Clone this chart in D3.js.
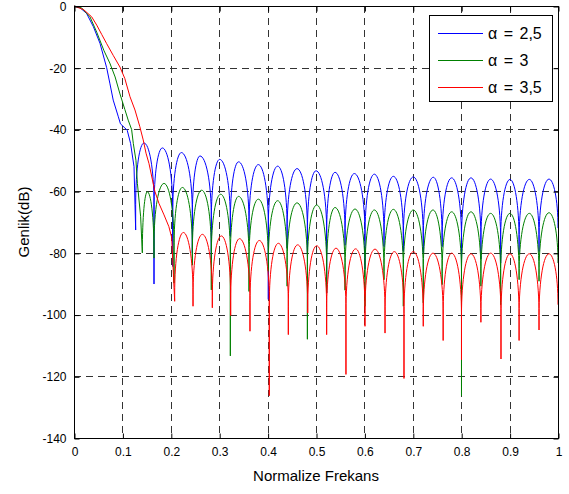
<!DOCTYPE html>
<html><head><meta charset="utf-8">
<script src="https://cdn.jsdelivr.net/npm/d3@7"></script>
<style>
body{margin:0;background:#fff}
text{font-family:Arial,"Liberation Sans",sans-serif;fill:#000}
</style>
</head><body>
<svg id="chart" width="569" height="494"></svg>
<script>
// ---- data ----
const xTicks = [0, 0.1, 0.2, 0.3, 0.4, 0.5, 0.6, 0.7, 0.8, 0.9, 1];
const xTickLabels = ["0", "0.1", "0.2", "0.3", "0.4", "0.5", "0.6", "0.7", "0.8", "0.9", "1"];
const yTicks = [0, -20, -40, -60, -80, -100, -120, -140];
const yTickLabels = ["0", "-20", "-40", "-60", "-80", "-100", "-120", "-140"];
const seriesNames = ["α = 2,5", "α = 3", "α = 3,5"];
const xTitle = "Normalize Frekans";
const yTitle = "Genlik(dB)";

// main lobe, [frequency, dB]
const blueMain = [[0,0],[0.012,-0.5],[0.026,-2.4],[0.040,-6.7],[0.0537,-12.1],[0.0675,-20],[0.074,-25],[0.081,-30.5],[0.0916,-35.9],[0.096,-38.2],[0.105,-39.5],[0.110,-40.3],[0.117,-44.6],[0.124,-52.1],[0.1274,-72.6]];
const greenMain = [[0,0],[0.015,-0.5],[0.033,-3.5],[0.047,-8.5],[0.062,-14.5],[0.074,-18.5],[0.085,-23],[0.095,-28.5],[0.105,-33.5],[0.112,-37],[0.119,-40],[0.1225,-44.5],[0.128,-50],[0.131,-57.5],[0.1377,-68.3],[0.1412,-80]];
const redMain = [[0,0],[0.02,-1.2],[0.0365,-3.5],[0.047,-6.2],[0.0572,-9.2],[0.0675,-12.2],[0.081,-16],[0.095,-19.8],[0.105,-23.5],[0.1157,-29.4],[0.126,-33.7],[0.136,-39.1],[0.143,-43.4],[0.1488,-47.7],[0.155,-51.1],[0.167,-60],[0.1756,-64],[0.186,-67.7],[0.196,-71.5],[0.2018,-75],[0.208,-95.7]];

// side lobes: nulls and peaks, [frequency, dB]
const blueNulls = [[0.1274,-72.6],[0.1653,-90.1],[0.2039,-84.4],[0.2445,-80],[0.2837,-82],[0.323,-74.7],[0.3616,-75.8],[0.4015,-95.1],[0.4403,-78.5],[0.4822,-80],[0.522,-93],[0.56,-77.6],[0.6012,-85.3],[0.6405,-78],[0.6804,-79.6],[0.7216,-80],[0.7606,-78],[0.8006,-91],[0.8407,-82],[0.8815,-83.3],[0.9196,-80],[0.9608,-79.6],[1.0,-72]];
const bluePeaks = [[0.1446,-44.4],[0.1825,-46],[0.2218,-47.5],[0.2603,-48.6],[0.301,-49.7],[0.340,-50.5],[0.3808,-51.4],[0.4208,-51.9],[0.4608,-52.7],[0.50,-53.4],[0.5393,-53.9],[0.5792,-54.3],[0.6205,-54.5],[0.6598,-55.2],[0.701,-55.4],[0.7424,-55.5],[0.7803,-55.7],[0.8202,-55.7],[0.8608,-56.1],[0.9008,-56.2],[0.9408,-56.2],[0.9814,-56.1]];

const greenNulls = [[0.1412,-80],[0.1653,-81.7],[0.2066,-89.8],[0.2445,-84],[0.2837,-92],[0.323,-113.4],[0.3616,-92.5],[0.4015,-86],[0.4403,-90.8],[0.4822,-108],[0.522,-93],[0.56,-92.1],[0.6012,-97.3],[0.6405,-88.7],[0.6804,-97.3],[0.7216,-96.2],[0.7606,-90.3],[0.8006,-126.3],[0.8407,-90.8],[0.8815,-96.8],[0.9196,-88.7],[0.9608,-89.2],[1.0,-83.3]];
const greenPeaks = [[0.1515,-60.2],[0.186,-57.5],[0.2238,-58.8],[0.2638,-59.7],[0.303,-61],[0.340,-61.7],[0.3808,-62.6],[0.4208,-63.1],[0.4608,-63.8],[0.5014,-64.5],[0.5393,-65.3],[0.5806,-65.8],[0.6205,-66.1],[0.6598,-65.9],[0.701,-66.1],[0.7417,-66.1],[0.7803,-66.7],[0.8202,-66.7],[0.8608,-67.2],[0.9008,-67.2],[0.9408,-67.2],[0.9814,-67]];

const redNulls = [[0.208,-95.7],[0.2459,-97.3],[0.2858,-97.8],[0.3237,-100.3],[0.3636,-105.4],[0.4035,-126.3],[0.4428,-106.5],[0.4829,-99.5],[0.522,-106.5],[0.5619,-119.4],[0.6012,-103.8],[0.6426,-106],[0.6818,-120.7],[0.7216,-103.8],[0.7627,-108.4],[0.8006,-114.6],[0.8407,-102.5],[0.8822,-114.4],[0.9196,-108.4],[0.9608,-105],[1.0,-96.8]];
const redPeaks = [[0.2259,-73.4],[0.2652,-74],[0.3044,-74.5],[0.342,-75.4],[0.3829,-76],[0.4222,-76.9],[0.4621,-77.4],[0.5014,-77.7],[0.5413,-78.5],[0.5819,-78.7],[0.6219,-78.8],[0.6618,-79.6],[0.701,-79.6],[0.7417,-80.1],[0.7803,-80.1],[0.8202,-80.3],[0.8608,-80.1],[0.9008,-80.3],[0.9408,-80.3],[0.9814,-80.3]];

// ---- layout ----
const W = 569, H = 494;
const m = {left: 74, top: 6, right: 11, bottom: 56};
const pw = W - m.left - m.right, ph = H - m.top - m.bottom;
const colors = ["#0000ff", "#008000", "#ff0000"];

const svg = d3.select("#chart");
const x = d3.scaleLinear().domain([0, 1]).range([m.left, m.left + pw]);
const y = d3.scaleLinear().domain([-140, 0]).range([m.top + ph, m.top]);

// grid
const grid = svg.append("g").attr("stroke", "#333").attr("stroke-width", 1).attr("stroke-dasharray", "7,5").attr("fill", "none");
xTicks.slice(1, -1).forEach(t => grid.append("line").attr("x1", Math.round(x(t)) + 0.5).attr("x2", Math.round(x(t)) + 0.5).attr("y1", m.top).attr("y2", m.top + ph));
yTicks.slice(1, -1).forEach(t => grid.append("line").attr("y1", Math.round(y(t)) + 0.5).attr("y2", Math.round(y(t)) + 0.5).attr("x1", m.left).attr("x2", m.left + pw));

// arch curve: null -> peak drawn as a vertical spike plus a rounded lobe
const archPx = y(-20) - y(0);
function archCurve(ctx) {
  let pts = [];
  return {
    areaStart() {}, areaEnd() {},
    lineStart() { pts = []; },
    point(px, py) { pts.push([+px, +py]); },
    lineEnd() {
      if (!pts.length) return;
      ctx.moveTo(pts[0][0], pts[0][1]);
      for (let i = 1; i < pts.length; i++) {
        const [x0, y0] = pts[i - 1], [x1, y1] = pts[i];
        const dx = x1 - x0;
        if (y1 < y0) {
          const h = Math.min(archPx, y0 - y1);
          const ys = y1 + h;
          ctx.lineTo(x0, ys);
          ctx.bezierCurveTo(x0, ys - 0.6 * h, x1 - 0.5 * dx, y1, x1, y1);
        } else {
          const h = Math.min(archPx, y1 - y0);
          const ye = y0 + h;
          ctx.bezierCurveTo(x0 + 0.5 * dx, y0, x1, ye - 0.6 * h, x1, ye);
          ctx.lineTo(x1, y1);
        }
      }
    }
  };
}

function merge(nulls, peaks) {
  const out = [];
  nulls.forEach((n, i) => { out.push(n); if (peaks[i]) out.push(peaks[i]); });
  return out;
}

const mainLine = d3.line().x(d => x(d[0])).y(d => y(d[1])).curve(d3.curveLinear);
const lobeLine = d3.line().x(d => x(d[0])).y(d => y(d[1])).curve(archCurve);

const series = [
  {main: blueMain, lobes: merge(blueNulls, bluePeaks)},
  {main: greenMain, lobes: merge(greenNulls, greenPeaks)},
  {main: redMain, lobes: merge(redNulls, redPeaks)}
];
const plot = svg.append("g");
series.forEach((s, i) => {
  plot.append("path").attr("d", mainLine(s.main)).attr("fill", "none").attr("stroke", colors[i]).attr("stroke-width", 1);
  plot.append("path").attr("d", lobeLine(s.lobes)).attr("fill", "none").attr("stroke", colors[i]).attr("stroke-width", 1);
});

// frame & axes
svg.append("rect").attr("x", m.left + 0.5).attr("y", m.top + 0.5).attr("width", pw).attr("height", ph).attr("fill", "none").attr("stroke", "#000");
const xAxisB = d3.axisBottom(x).tickValues(xTicks).tickFormat((d, i) => xTickLabels[i]).tickSizeInner(-5).tickSizeOuter(0).tickPadding(9);
const gx = svg.append("g").attr("transform", `translate(0.5,${m.top + ph + 0.5})`).call(xAxisB);
const xAxisT = d3.axisTop(x).tickValues(xTicks).tickFormat("").tickSizeInner(-5).tickSizeOuter(0);
const gxt = svg.append("g").attr("transform", `translate(0.5,${m.top + 0.5})`).call(xAxisT);
const yAxisL = d3.axisLeft(y).tickValues(yTicks).tickFormat((d, i) => yTickLabels[i]).tickSizeInner(-5).tickSizeOuter(0).tickPadding(8);
const gy = svg.append("g").attr("transform", `translate(${m.left + 0.5},0.5)`).call(yAxisL);
const yAxisR = d3.axisRight(y).tickValues(yTicks).tickFormat("").tickSizeInner(-5).tickSizeOuter(0);
const gyr = svg.append("g").attr("transform", `translate(${m.left + pw + 0.5},0.5)`).call(yAxisR);
[gx, gxt, gy, gyr].forEach(g => {
  g.select(".domain").remove();
  g.selectAll("line").attr("stroke", "#000");
  g.selectAll("text").attr("font-size", 12).attr("font-family", "Arial, 'Liberation Sans', sans-serif").attr("fill", "#000");
});

// titles
svg.append("text").attr("x", m.left + pw / 2).attr("y", 481).attr("text-anchor", "middle").attr("font-size", 15).text(xTitle);
svg.append("text").attr("transform", `translate(29,${m.top + ph / 2}) rotate(-90)`).attr("text-anchor", "middle").attr("font-size", 15).text(yTitle);

// legend
const lg = svg.append("g");
lg.append("rect").attr("x", 429.5).attr("y", 15.5).attr("width", 123).attr("height", 86).attr("fill", "#fff").attr("stroke", "#000");
seriesNames.forEach((n, i) => {
  const yy = 33 + i * 27;
  lg.append("line").attr("x1", 438).attr("x2", 483).attr("y1", yy + 0.5).attr("y2", yy + 0.5).attr("stroke", colors[i]);
  lg.append("text").attr("x", 488).attr("y", yy + 6).attr("font-size", 16).attr("word-spacing", 2).text(n);
});
</script>
</body></html>
